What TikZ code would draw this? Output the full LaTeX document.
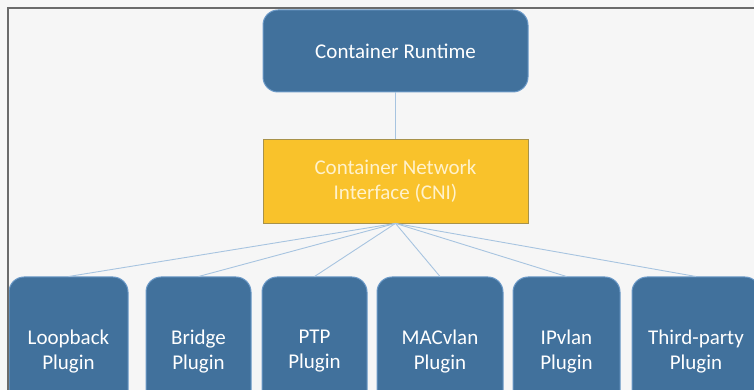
\documentclass[tikz,border=0pt]{standalone}
\usepackage{fontspec}
\setmainfont{Carlito}
\usetikzlibrary{calc}
\definecolor{boxfill}{HTML}{41719C}
\definecolor{boxstroke}{HTML}{6C9AC8}
\definecolor{cnifill}{HTML}{F9C22B}
\definecolor{cnistroke}{HTML}{A8924A}
\definecolor{cnitext}{HTML}{FFF2CC}
\definecolor{linkstroke}{HTML}{A7C4E0}
\definecolor{framestroke}{HTML}{6B6B6B}
\definecolor{backfill}{HTML}{F6F6F6}
\tikzset{
  runtimebox/.style={
    rectangle, rounded corners=15pt, draw=boxstroke, fill=boxfill, line width=1pt,
    minimum width=265pt, minimum height=82pt, align=center, inner sep=2pt,
    text=white, font=\fontsize{21}{25}\selectfont
  },
  cnibox/.style={
    rectangle, draw=cnistroke, fill=cnifill, line width=0.8pt,
    minimum width=265pt, minimum height=84pt, align=center, inner sep=2pt,
    text=cnitext, font=\fontsize{21}{25}\selectfont
  },
  pluginbox/.style={
    rectangle, rounded corners=15pt, draw=boxstroke, fill=boxfill, line width=1pt,
    minimum height=149pt, align=center, inner sep=2pt,
    text=white, font=\fontsize{21}{25}\selectfont
  },
  link/.style={draw=linkstroke, line width=0.9pt}
}
\begin{document}
\begin{tikzpicture}[x=1pt,y=1pt]
  \useasboundingbox (0,0) rectangle (754,390);
  \clip (0,0) rectangle (754,390);
  \fill[backfill] (0,0) rectangle (754,390);

  \node[runtimebox] (runtime) at (395.5,339) {Container Runtime};
  \node[cnibox] (cni) at (395.5,209) {Container Network\\Interface (CNI)};

  % Plugin row, cut off by the lower edge.
  \node[pluginbox, minimum width=119pt] (loopback) at (68.5,38.5) {Loopback\\Plugin};
  \node[pluginbox, minimum width=105pt] (bridge) at (198.5,38.5) {Bridge\\Plugin};
  \node[pluginbox, minimum width=105pt] (ptp) at (314.5,38.5) {PTP\\Plugin};
  \node[pluginbox, minimum width=126pt] (macvlan) at (440,38.5) {MACvlan\\Plugin};
  \node[pluginbox, minimum width=107pt] (ipvlan) at (566.5,38.5) {IPvlan\\Plugin};
  \node[pluginbox, minimum width=128pt] (thirdparty) at (696,38.5) {Third-party\\Plugin};

  \draw[link] (runtime.south) -- (cni.north);
  \foreach \plug in {loopback,bridge,ptp,macvlan,ipvlan,thirdparty}
    \draw[link] (cni.south) -- (\plug.north);

  % frame of the screenshot
  \draw[framestroke, line width=2pt] (754,381.5) -- (8,381.5) -- (8,0);
\end{tikzpicture}
\end{document}
